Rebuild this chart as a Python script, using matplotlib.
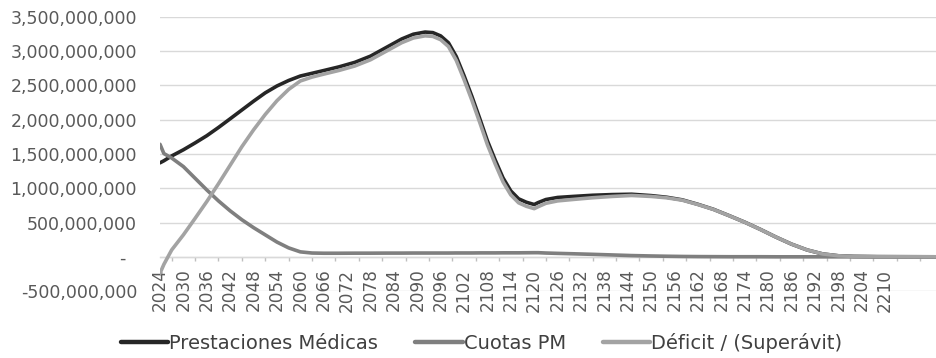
import matplotlib
matplotlib.use("Agg")
import matplotlib.pyplot as plt
from matplotlib.ticker import FixedLocator, FuncFormatter

plt.rcParams['font.family'] = ['DejaVu Sans']

# ---- data (millions) ----
years = [2024, 2025, 2027, 2030, 2033, 2036, 2039, 2042, 2045, 2048, 2051, 2054,
         2057, 2060, 2063, 2066, 2070, 2074, 2078, 2082, 2086, 2089, 2092, 2094,
         2096, 2098, 2100, 2102, 2104, 2106, 2108, 2110, 2112, 2114, 2116, 2118,
         2120, 2121, 2123, 2126, 2130, 2135, 2140, 2145, 2150, 2154, 2158, 2162,
         2166, 2170, 2174, 2178, 2182, 2186, 2190, 2194, 2198, 2202, 2208, 2215,
         2223]

prestaciones = [1370, 1400, 1470, 1560, 1660, 1765, 1885, 2012, 2140, 2268, 2390, 2490,
                2570, 2635, 2675, 2715, 2770, 2835, 2925, 3050, 3175, 3245, 3276, 3268,
                3220, 3120, 2920, 2640, 2340, 2020, 1690, 1410, 1150, 960, 845, 795,
                762, 790, 835, 865, 880, 897, 907, 912, 892, 868, 830, 765,
                692, 600, 505, 400, 288, 185, 100, 42, 15, 6, 2, 1,
                0]

cuotas = [1640, 1505, 1440, 1315, 1145, 975, 815, 670, 540, 425, 320, 215,
          130, 72, 55, 52, 52, 53, 53, 54, 54, 55, 55, 55,
          55, 55, 56, 56, 56, 57, 57, 57, 58, 58, 58, 59,
          60, 60, 55, 50, 44, 36, 27, 18, 12, 8, 5, 3,
          2, 1, 1, 1, 0, 0, 0, 0, 0, 0, 0, 0,
          0]

deficit = [-240, -110, 100, 320, 560, 805, 1065, 1335, 1605, 1850, 2075, 2275,
           2440, 2563, 2620, 2663, 2718, 2782, 2872, 2996, 3121, 3190, 3221, 3213,
           3165, 3065, 2864, 2584, 2284, 1963, 1633, 1353, 1092, 902, 787, 736,
           702, 730, 780, 815, 836, 861, 880, 894, 880, 860, 825, 762,
           690, 599, 504, 399, 288, 185, 100, 42, 15, 6, 2, 1,
           0]

series_names = ["Prestaciones Médicas", "Cuotas PM", "Déficit / (Superávit)"]
label_years = list(range(2024, 2211, 6))
y_ticks = [-500, 0, 500, 1000, 1500, 2000, 2500, 3000, 3500]

# ---- figure ----
W, H = 936, 358
fig = plt.figure(figsize=(W / 100, H / 100), dpi=100)
left_px, right_px, top_px, bottom_px = 160, 936, 16.7, 291.1
ax = fig.add_axes([left_px / W, 1 - bottom_px / H,
                   (right_px - left_px) / W, (bottom_px - top_px) / H])

colors = ["#262626", "#7f7f7f", "#a3a3a3"]
scale = 1e6
for vals, name, c in zip([prestaciones, cuotas, deficit], series_names, colors):
    ax.plot(years, [v * scale for v in vals], color=c, lw=2.6, label=name,
            solid_joinstyle='round', solid_capstyle='round', zorder=3)

ax.set_xlim(2024, 2024 + (right_px - left_px) / 3.898)
ax.set_ylim(-500e6, 3500e6)

# gridlines
for v in y_ticks:
    ax.axhline(v * scale, color="#d9d9d9", lw=1.0, zorder=1)

ax.yaxis.set_major_locator(FixedLocator([v * scale for v in y_ticks]))

def yfmt(v, pos):
    if abs(v) < 1:
        return "-  "
    return f"{v:,.0f}"

ax.yaxis.set_major_formatter(FuncFormatter(yfmt))
ax.tick_params(axis='y', length=0, pad=16.5, labelsize=12.5, labelcolor="#595959")

for s in ['left', 'right', 'top']:
    ax.spines[s].set_visible(False)
ax.spines['bottom'].set_position(('data', 0))
ax.spines['bottom'].set_color("#d9d9d9")
ax.spines['bottom'].set_linewidth(1.0)
ax.spines['bottom'].set_zorder(2)

ax.xaxis.set_major_locator(FixedLocator(label_years))
ax.set_xticklabels([str(y) for y in label_years], rotation=90)
ax.tick_params(axis='x', which='major', length=0, pad=8.5, labelsize=12.2,
               labelcolor="#595959")
ax.xaxis.set_minor_locator(FixedLocator([y + 3 for y in label_years] + [2219]))
ax.tick_params(axis='x', which='minor', length=3, width=1, color="#bfbfbf",
               direction='out')
for lbl in ax.get_xticklabels():
    lbl.set_verticalalignment('top')

leg = fig.legend(loc='center', bbox_to_anchor=(481.5 / W, 1 - 343 / H),
                 ncol=3, frameon=False, fontsize=14, handlelength=2.45,
                 handletextpad=0.05, columnspacing=1.9, labelcolor="#404040")
for line in leg.get_lines():
    line.set_linewidth(3.2)

fig.savefig("out.png", dpi=100)
